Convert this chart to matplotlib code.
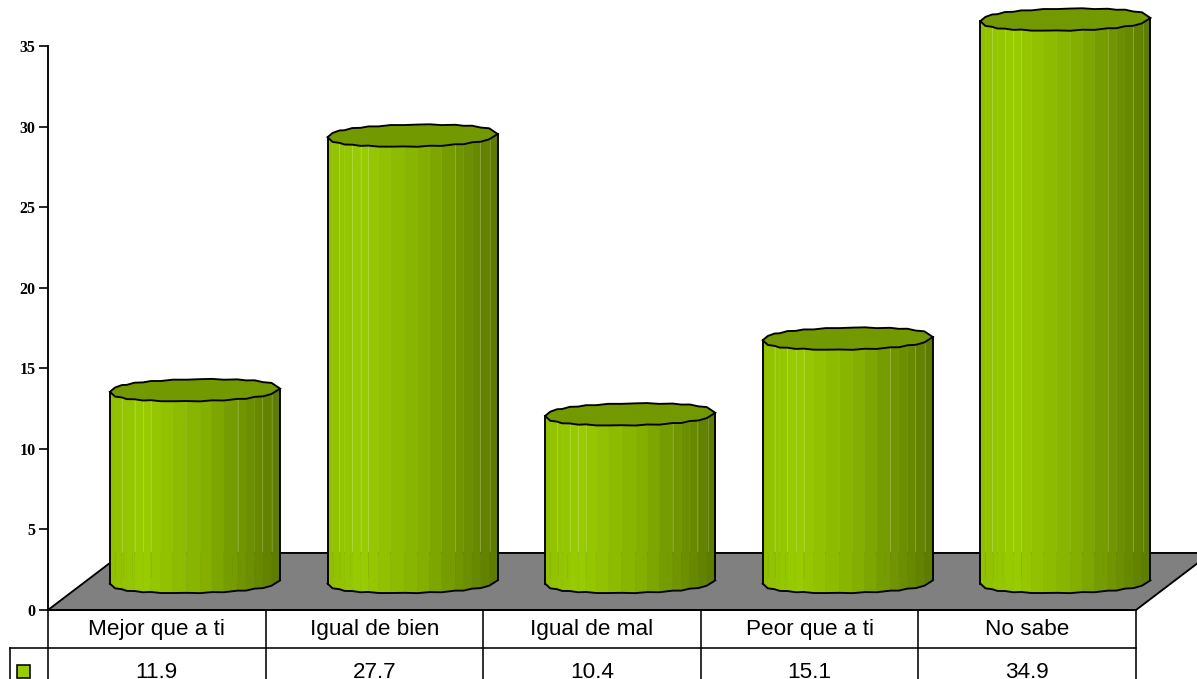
import numpy as np
import matplotlib
matplotlib.use("Agg")
import matplotlib.pyplot as plt
from matplotlib.colors import to_rgb
from matplotlib.patches import Polygon, Rectangle

categories = ["Mejor que a ti", "Igual de bien", "Igual de mal", "Peor que a ti", "No sabe"]
values = [11.9, 27.7, 10.4, 15.1, 34.9]
y_ticks = [0, 5, 10, 15, 20, 25, 30, 35]

# look of the fake 3d, in axis units
DEPTH_X = 0.345
DEPTH_Y = 3.54
HALF_W = 0.391
ELL_H = 0.68
TILT = 0.1
LW = 1.35

TOP_COLOR = "#739900"
FLOOR_COLOR = "#808080"
KEY_COLOR = "#99CC00"

# facet borders across the cylinder, 0 = left side, 1 = right side
facets = [0, .03, .07, .10, .145, .195, .24, .30, .37, .45, .53, .60, .67, .75, .80, .85, .90, .95, 1]
wobble = [0, .04, -.03, .05, -.02, .03, -.04, .02, 0, -.02, .03, -.03, .04, -.02, .05, -.04, .03, -.02, 0]
stripes_up = [.07, .145, .195, .24, .75, .895, .955]
stripes_low = [.03, .075, .13, .24, .72, .75, .80, .85, .90, .95]


def shade(f):
    # horizontal light: brightest a bit left of the middle
    stops = [0, .2, .55, 1]
    cols = np.array([to_rgb("#8FBF00"), to_rgb("#99CC00"), to_rgb("#85B000"), to_rgb("#5C7A00")])
    return [np.interp(f, stops, cols[:, i]) for i in range(3)]


def ellipse_front(cx, y0):
    t = 2 * np.array(facets) - 1
    x = cx + HALF_W * t
    y = y0 + TILT * t - ELL_H * (np.sqrt(1 - t ** 2) ** 0.85 + np.array(wobble))
    return x, y


def ellipse_back(cx, y0):
    t = 2 * np.array(facets) - 1
    x = cx + HALF_W * t
    y = y0 + TILT * t + ELL_H * (np.sqrt(1 - t ** 2) ** 0.85 + np.array(wobble[::-1]))
    return x, y


def draw_cylinder(ax, i, val):
    cx = i + DEPTH_X / 2 + 0.003
    base = DEPTH_Y / 2 - 0.03
    top = base + val

    xb, yb = ellipse_front(cx, base)
    xt, yt = ellipse_front(cx, top)
    for k in range(len(facets) - 1):
        fm = (facets[k] + facets[k + 1]) / 2
        ax.fill([xb[k], xb[k + 1], xt[k + 1], xt[k]],
                [yb[k], yb[k + 1], yt[k + 1], yt[k]],
                color=shade(fm), lw=0.3, zorder=3, clip_on=False)

    # thin light seams, they break where the floor ends
    for f in stripes_up:
        x = cx + HALF_W * (2 * f - 1)
        ax.plot([x, x], [DEPTH_Y + 0.1, top], color="white", alpha=0.22, lw=0.6, zorder=4, clip_on=False)
    for f in stripes_low:
        x = cx + HALF_W * (2 * f - 1)
        ax.plot([x, x], [base + 0.3, DEPTH_Y], color="#5C7A00", alpha=0.15, lw=0.6, zorder=4, clip_on=False)

    # outline
    ax.plot(xb, yb, color="black", lw=LW, zorder=5, clip_on=False)
    ax.plot([xb[0], xb[0]], [yb[0], yt[0]], color="black", lw=LW, zorder=5, clip_on=False)
    ax.plot([xb[-1], xb[-1]], [yb[-1], yt[-1]], color="black", lw=LW, zorder=5, clip_on=False)

    # lid
    xk, yk = ellipse_back(cx, top)
    pts = np.column_stack([np.r_[xt, xk[::-1]], np.r_[yt, yk[::-1]]])
    ax.add_patch(Polygon(pts, closed=True, fc=TOP_COLOR, ec="black", lw=LW, zorder=6, clip_on=False))


fig = plt.figure(figsize=(11.97, 6.79), dpi=100)
ax = fig.add_axes([48 / 1197, (679 - 610) / 679, 1088 / 1197, 564 / 679])
ax.set_xlim(-0.5, 4.5)
ax.set_ylim(0, 35)
ax.patch.set_visible(False)

# floor
ax.add_patch(Polygon([(-0.5, 0), (4.5, 0), (4.5 + DEPTH_X, DEPTH_Y), (-0.5 + DEPTH_X, DEPTH_Y)],
                     closed=True, fc=FLOOR_COLOR, ec="black", lw=LW, zorder=1, clip_on=False))

for i, v in enumerate(values):
    draw_cylinder(ax, i, v)

for s in ["top", "right"]:
    ax.spines[s].set_visible(False)
for s in ["left", "bottom"]:
    ax.spines[s].set_linewidth(LW)
    ax.spines[s].set_zorder(7)

ax.set_xticks([])
ax.set_yticks(y_ticks)
ax.tick_params(axis="y", length=6.5, width=1.2, pad=2.5)
for lab in ax.get_yticklabels():
    lab.set_fontfamily("Liberation Serif")
    lab.set_fontweight("bold")
    lab.set_fontsize(11.5)

# data table under the axis, runs off the bottom of the image
row1 = -38 / 16.114
row2 = -72 / 16.114
for k in range(6):
    ax.plot([k - 0.5, k - 0.5], [0, row2], color="black", lw=1.15, clip_on=False, zorder=2)
legend_left = -0.5 - 38 / 217.6
ax.plot([legend_left, 4.5], [row1, row1], color="black", lw=1.15, clip_on=False, zorder=2)
ax.plot([legend_left, legend_left], [row1, row2], color="black", lw=1.15, clip_on=False, zorder=2)
ax.add_patch(Rectangle((-0.5 - 31 / 217.6, -68 / 16.114), 13 / 217.6, 13 / 16.114,
                       fc=KEY_COLOR, ec="black", lw=1.15, clip_on=False, zorder=3))

for i, name in enumerate(categories):
    ax.text(i, -19.5 / 16.114, name, ha="center", va="center", family="Liberation Sans", fontsize=16.2)
    ax.text(i, -67.5 / 16.114, f"{values[i]:.1f}", ha="center", va="baseline", family="Liberation Sans", fontsize=16.2)

fig.savefig("out.png", dpi=100, facecolor="white")
